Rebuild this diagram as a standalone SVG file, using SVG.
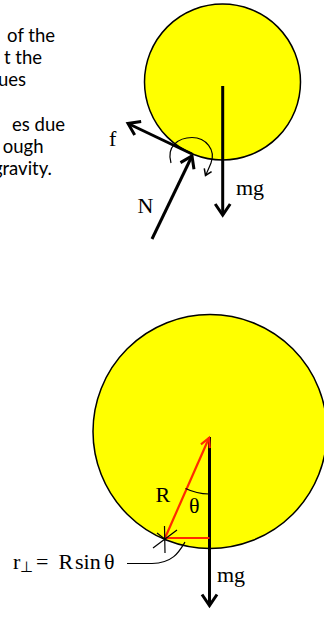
<svg xmlns="http://www.w3.org/2000/svg" width="324" height="621" viewBox="0 0 324 621">
<style>
.body{font-family:Lato,"Open Sans","Liberation Sans",sans-serif;font-size:18.5px;fill:#000}
.lbl{font-family:"Liberation Serif","Times New Roman",serif;font-size:22px;fill:#000}
.ball{fill:#ffff00;stroke:#000;stroke-width:1.5}
.f3{fill:none;stroke:#000;stroke-width:3}
.red{fill:none;stroke:#ff2a00;stroke-width:2.2}
.thin{fill:none;stroke:#000;stroke-width:1.2}
</style>
<defs>
<marker id="ah" markerUnits="userSpaceOnUse" orient="auto" refX="0" refY="0" markerWidth="20" markerHeight="20" overflow="visible">
<path d="M-11,-7.5 L0,0 L-11,7.5" fill="none" stroke="#000" stroke-width="3"/>
</marker>
<marker id="ahr" markerUnits="userSpaceOnUse" orient="auto" refX="0" refY="0" markerWidth="20" markerHeight="20" overflow="visible">
<path d="M-9,-4.8 L0,0 L-9,4.8" fill="none" stroke="#ff2a00" stroke-width="2.2"/>
</marker>
<marker id="ahs" markerUnits="userSpaceOnUse" orient="auto" refX="0" refY="0" markerWidth="20" markerHeight="20" overflow="visible">
<path d="M-6,-4 L0,0 L-6,4" fill="none" stroke="#000" stroke-width="1.5"/>
</marker>
</defs>

<g id="text-block">
<text class="body" text-anchor="end" x="55" y="41.5">of the</text>
<text class="body" text-anchor="end" x="42" y="63.8">t the</text>
<text class="body" text-anchor="end" x="26" y="86">ues</text>
<text class="body" text-anchor="end" x="65" y="130.5">es due</text>
<text class="body" text-anchor="end" x="43.5" y="152.8">ough</text>
<text class="body" text-anchor="end" x="52" y="175">gravity.</text>
</g>

<g id="ball-top">
<circle class="ball" cx="222.5" cy="82" r="78"/>
</g>

<g id="ball-bottom">
<circle class="ball" cx="210" cy="431.5" r="117"/>
</g>

<g id="connectors">
<line class="f3" x1="222.7" y1="86" x2="222.7" y2="215" marker-end="url(#ah)"/>
<line class="f3" x1="192" y1="154" x2="128" y2="123.5" marker-end="url(#ah)"/>
<line class="f3" x1="152" y1="239" x2="192" y2="156" marker-end="url(#ah)"/>
<path class="thin" stroke-width="1.5" d="M171,163 C166,146 179,137.5 192,137.5 C206,137.5 216,150 211,163 C209,168 207.5,171 205.5,175.5" marker-end="url(#ahs)"/>

<line class="f3" x1="209.5" y1="437" x2="209.5" y2="605.5" marker-end="url(#ah)"/>
<line class="red" x1="165" y1="538" x2="209" y2="438" marker-end="url(#ahr)"/>
<line class="red" x1="165" y1="538" x2="209.5" y2="538"/>
<path class="thin" d="M185.5,488.5 A57,57 0 0 0 209,494"/>
<path class="thin" d="M153,548 L177,530 M164.5,526 L165,553 M157,533 L166,540"/>
<path class="thin" d="M185,542 C179,552 173,563 152,563.5 L127,563.5"/>
</g>

<g id="labels">
<text class="lbl" x="109" y="146">f</text>
<text class="lbl" x="137.5" y="213">N</text>
<text class="lbl" x="236" y="195">mg</text>
<text class="lbl" x="217" y="582">mg</text>
<text class="lbl" x="155.5" y="502">R</text>
<text class="lbl" x="189" y="513">θ</text>
<text class="lbl" x="13" y="569">r<tspan font-size="15" dy="3">⊥</tspan></text>
<text class="lbl" x="36" y="569">=</text>
<text class="lbl" x="58.5" y="569">R</text>
<text class="lbl" x="75" y="569">sin</text>
<text class="lbl" x="104" y="569">θ</text>
</g>
</svg>
